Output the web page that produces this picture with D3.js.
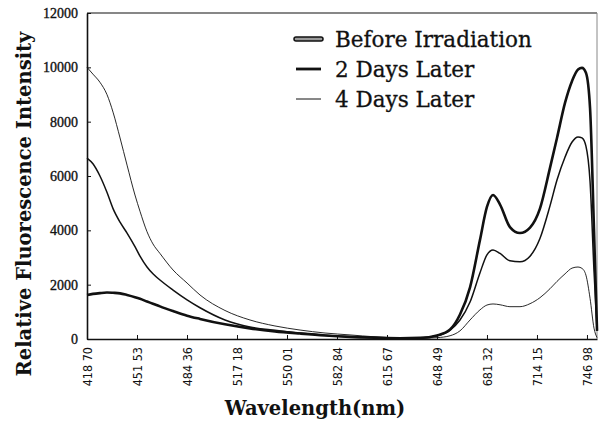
<!DOCTYPE html>
<html>
<head>
<meta charset="utf-8">
<script src="https://cdn.jsdelivr.net/npm/d3@7"></script>
<style>
  body { margin: 0; background: #fff; }
  svg { display: block; }
</style>
</head>
<body>
<svg width="599" height="421"></svg>
<script>
// wavelength samples (nm)
var wavelengths = [418.7, 422.6, 427.2, 431.8, 435.8, 440.4, 445.0, 450.2, 453.5, 458.1,
    462.0, 466.6, 475.2, 484.4, 492.9, 509.3, 525.7, 542.1, 558.6, 575.0,
    591.4, 607.8, 624.2, 637.4, 648.5, 657.1, 663.6, 670.2, 676.7, 681.3,
    685.3, 689.9, 696.4, 703.0, 709.6, 716.1, 722.7, 727.3, 732.6, 737.2,
    741.1, 743.7, 746.3, 749.0, 751.6, 753.6];

var beforeIrradiation = [1620, 1660, 1690, 1710, 1700, 1680, 1620, 1540, 1480, 1380,
    1300, 1200, 1030, 860, 740, 540, 390, 280, 200, 130,
    80, 50, 30, 40, 130, 350, 900, 1900, 3640, 4860,
    5300, 4950, 4120, 3900, 4100, 4800, 6300, 7400, 8700, 9500,
    9920, 9980, 9800, 8500, 4000, 300];

var twoDaysLater = [6660, 6450, 6000, 5400, 4800, 4300, 3900, 3400, 3050, 2650,
    2400, 2170, 1800, 1440, 1150, 700, 440, 320, 220, 140,
    80, 50, 30, 40, 120, 330, 700, 1360, 2430, 3100,
    3280, 3150, 2880, 2840, 3050, 3700, 4900, 5850, 6700, 7250,
    7440, 7400, 7100, 5800, 2500, 300];

var fourDaysLater = [10000, 9750, 9450, 9000, 8350, 7400, 6400, 5300, 4700, 3950,
    3500, 3150, 2540, 2060, 1620, 1050, 700, 480, 330, 220,
    150, 80, 40, 30, 50, 120, 300, 700, 1070, 1250,
    1290, 1260, 1190, 1190, 1300, 1520, 1850, 2120, 2400, 2610,
    2650, 2600, 2350, 1500, 400, 50];

var xTickValues = [418.70, 451.53, 484.36, 517.18, 550.01, 582.84, 615.67, 648.49, 681.32, 714.15, 746.98];
var xTickLabels = ['418 70', '451 53', '484 36', '517 18', '550 01', '582 84', '615 67', '648 49', '681 32', '714 15', '746 98'];
var yTickValues = [0, 2000, 4000, 6000, 8000, 10000, 12000];

var seriesNames = ['Before Irradiation', '2 Days Later', '4 Days Later'];
var seriesData = [beforeIrradiation, twoDaysLater, fourDaysLater];

var plotLeft = 87, plotRight = 597, plotTop = 13, plotBottom = 339;

var svg = d3.select('svg');

var xScale = d3.scaleLinear()
    .domain([418.70, 418.70 + (plotRight - plotLeft) / 50 * 32.83])
    .range([plotLeft, plotRight]);

var yScale = d3.scaleLinear()
    .domain([0, 12000])
    .range([plotBottom, plotTop]);

//frame top and right
svg.append('line')
    .attr('x1', plotLeft).attr('x2', plotRight)
    .attr('y1', plotTop).attr('y2', plotTop)
    .style('stroke', '#111').style('stroke-width', 1.2);
svg.append('line')
    .attr('x1', plotRight).attr('x2', plotRight)
    .attr('y1', plotTop).attr('y2', plotBottom)
    .style('stroke', '#888').style('stroke-width', 1);

//x-axis, ticks pointing inwards
var xAxis = d3.axisBottom(xScale)
    .tickValues(xTickValues)
    .tickSize(-4)
    .tickSizeOuter(0)
    .tickFormat((d, i) => xTickLabels[i]);

var gx = svg.append('g')
    .attr('class', 'x axis')
    .attr('transform', 'translate(0,' + plotBottom + ')')
    .call(xAxis);
gx.select('.domain').style('stroke', '#111').style('stroke-width', 1.6);
gx.selectAll('.tick line').style('stroke', '#111');
gx.selectAll('.tick text')
    .style('font-family', '"Liberation Sans Narrow", "DejaVu Sans Condensed", sans-serif')
    .style('font-size', '12.5px')
    .style('fill', '#111')
    .attr('text-anchor', 'end')
    .attr('transform', 'rotate(-90)')
    .attr('x', -8)
    .attr('y', 0)
    .attr('dy', '0.35em');

//y-axis, ticks pointing inwards
var yAxis = d3.axisLeft(yScale)
    .tickValues(yTickValues)
    .tickSize(-4)
    .tickSizeOuter(0)
    .tickFormat(d3.format('d'));

var gy = svg.append('g')
    .attr('class', 'y axis')
    .attr('transform', 'translate(' + plotLeft + ',0)')
    .call(yAxis);
gy.select('.domain').style('stroke', '#111').style('stroke-width', 1.6);
gy.selectAll('.tick line').style('stroke', '#111');
gy.selectAll('.tick text')
    .style('font-family', '"Liberation Serif", serif')
    .style('font-size', '14px')
    .style('fill', '#111')
    .style('stroke', '#111')
    .style('stroke-width', 0.35)
    .attr('x', -9);

//curves
var line = d3.line()
    .x((d, i) => xScale(wavelengths[i]))
    .y(d => yScale(d))
    .curve(d3.curveMonotoneX);

var widths = [2.6, 1.5, 0.9];

svg.selectAll('.curve')
    .data(seriesData)
    .enter()
    .append('path')
    .attr('class', 'curve')
    .attr('d', line)
    .style('fill', 'none')
    .style('stroke', '#111')
    .style('stroke-width', (d, i) => widths[i])
    .style('stroke-linejoin', 'round');

//legend
var legend = svg.selectAll('.legend')
    .data(seriesNames)
    .enter()
    .append('g')
    .attr('class', 'legend')
    .attr('transform', (d, i) => 'translate(296,' + (39 + i * 30) + ')');

legend.filter((d, i) => i === 0)
    .append('line')
    .attr('x1', 0).attr('x2', 25)
    .style('stroke', '#111').style('stroke-width', 5.5).style('stroke-linecap', 'round');

legend.append('line')
    .attr('x1', 0).attr('x2', 25)
    .style('stroke', (d, i) => i === 0 ? '#999' : '#111')
    .style('stroke-width', (d, i) => [2.5, 2.8, 1][i])
    .style('stroke-linecap', (d, i) => i === 0 ? 'round' : 'butt');

legend.append('text')
    .attr('x', 39)
    .attr('dy', '0.35em')
    .style('font-family', '"DejaVu Serif", serif')
    .style('font-size', '21.5px')
    .style('fill', '#111')
    .style('stroke', '#111')
    .style('stroke-width', 0.3)
    .text(d => d);

//axis titles
svg.append('text')
    .attr('transform', 'translate(315,415)')
    .attr('text-anchor', 'middle')
    .style('font-family', '"DejaVu Serif", serif')
    .style('font-weight', 'bold')
    .style('font-size', '19.5px')
    .style('fill', '#111')
    .text('Wavelength(nm)');

svg.append('text')
    .attr('transform', 'translate(31,204) rotate(-90)')
    .attr('text-anchor', 'middle')
    .style('font-family', '"DejaVu Serif", serif')
    .style('font-weight', 'bold')
    .style('font-size', '19.5px')
    .style('fill', '#111')
    .text('Relative Fluorescence Intensity');
</script>
</body>
</html>
